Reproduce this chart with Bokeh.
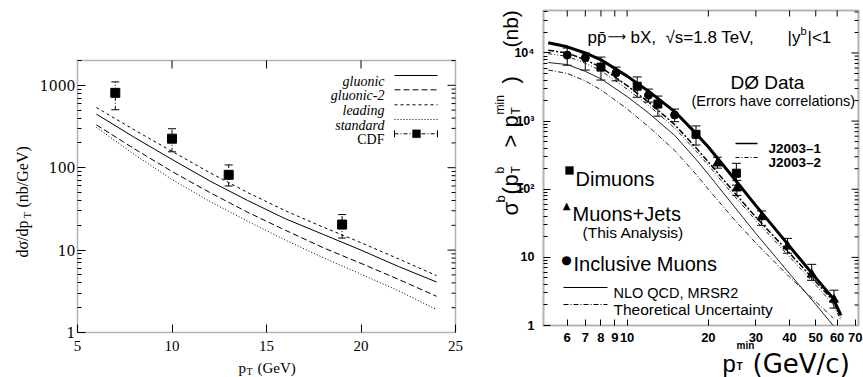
import math
from bokeh.plotting import figure
from bokeh.layouts import row
from bokeh.models import (Range1d, FixedTicker, Label, Arrow, Whisker, TeeHead,
                          ColumnDataSource, CustomJSTickFormatter, BoxAnnotation)
from bokeh.embed import file_html
from bokeh.resources import INLINE

# ---------------- left panel data ----------------
pt_left = [6, 8, 10, 12, 14, 16, 18, 20, 22, 24]
gluonic = [447, 234, 126, 69, 40, 24, 15.5, 10.0, 6.3, 4.1]
gluonic_2 = [331, 170, 90, 50, 28.8, 17.4, 10.7, 6.9, 4.4, 2.75]
leading = [537, 288, 158, 87, 50, 30, 19, 12.3, 7.8, 4.9]
standard = [309, 145, 72, 39, 22.4, 13.2, 8.1, 5.1, 3.2, 1.9]

cdf_pt = [7, 10, 13, 19]
cdf = [810, 225, 82, 20.4]
cdf_hi = [1100, 297, 108, 27]
cdf_lo = [505, 156, 60, 14]

left_xticks = [5, 10, 15, 20, 25]
left_yticks = [1, 10, 100, 1000]

# ---------------- right panel data ----------------
pt_right = [5.1, 6, 7, 8, 10, 12, 15, 18, 20, 25, 30, 40, 50, 58, 62]
j2003_1 = [14100, 12300, 10000, 7940, 4570, 2750, 1380, 660, 417, 141, 57.5, 14.5, 5.0, 2.5, 1.41]
j2003_2 = [10960, 10000, 7940, 6170, 3310, 1900, 890, 407, 251, 89, 38.9, 11.5, 4.4, 2.3, 1.32]
unc_up = [9770, 8910, 7080, 5500, 2950, 1700, 794, 363, 224, 79, 34.7, 10.2, 3.9, 2.04, 1.17]
nlo = [7240, 6760, 5370, 4170, 2290, 1320, 617, 275, 166, 55, 22.4, 5.75, 2.04, 1.0]
unc_lo = [5620, 5010, 3890, 2880, 1510, 832, 372, 166, 100, 35.5, 16.2, 5.13, 2.24, 1.29]

incl_pt = [6, 7, 9.1, 12, 15]
incl = [9300, 8500, 5100, 2400, 1230]
incl_hi = [11800, 10000, 6200, 2950, 1500]
incl_lo = [6600, 5600, 3900, 1900, 980]

dimu_pt = [8, 10.9, 13, 18, 25.4]
dimu = [6200, 3250, 1780, 640, 172]
dimu_hi = [8700, 4450, 2330, 850, 240]
dimu_lo = [4000, 2240, 1180, 445, 115]

mj_pt = [21.6, 25.5, 31.5, 39.3, 48.3, 58.4]
mj = [240, 103, 39, 14.5, 5.6, 2.4]
mj_hi = [295, 135, 48, 19, 7.9, 3.3]
mj_lo = [204, 81, 29.5, 11.5, 4.6, 1.8]

right_xticks = [6, 7, 8, 9, 10, 20, 30, 40, 50, 60, 70]
right_yticks = [1, 10, 100, 1000, 10000]

# axis extents of the two boxes
L_X = (5, 25)
L_Y = (1, 2000)
R_X = (4.9, 72)
R_Y = (1, 42000)

# box geometry (pixels): left offset, width, bottom offset, height, canvas size
L_BOX = dict(ox=77, w=378, oy=45, h=272, W=470, H=377)
R_BOX = dict(ox=73, w=315, oy=52, h=315, W=393, H=377)


def minor_log(lo_exp, hi_exp, top):
    out = []
    for e in range(lo_exp, hi_exp + 1):
        for m in range(2, 10):
            v = m * 10 ** e
            if v <= top:
                out.append(v)
    return out


class Mapper:
    def __init__(self, xr, yr, xlog, ylog, g):
        self.xr, self.yr, self.xlog, self.ylog, self.g = xr, yr, xlog, ylog, g

    def _t(self, v, r, log):
        if log:
            return (math.log10(v) - math.log10(r[0])) / (math.log10(r[1]) - math.log10(r[0]))
        return (v - r[0]) / (r[1] - r[0])

    def sx(self, v):
        return self.g["ox"] + self._t(v, self.xr, self.xlog) * self.g["w"]

    def sy(self, v):
        return self.g["oy"] + self._t(v, self.yr, self.ylog) * self.g["h"]

    def _inv(self, s, r, log, off, size):
        t = (s - off) / size
        if log:
            a, b = math.log10(r[0]), math.log10(r[1])
            return 10 ** (a + t * (b - a))
        return r[0] + t * (r[1] - r[0])

    def ranges(self):
        g = self.g
        xr = Range1d(self._inv(0, self.xr, self.xlog, g["ox"], g["w"]),
                     self._inv(g["W"], self.xr, self.xlog, g["ox"], g["w"]))
        yr = Range1d(self._inv(0, self.yr, self.ylog, g["oy"], g["h"]),
                     self._inv(g["H"], self.yr, self.ylog, g["oy"], g["h"]))
        return xr, yr


def make_tools(p):
    def lab(x, y, text, size, font="Liberation Sans", style="normal", align="left",
            angle=0.0, baseline="alphabetic"):
        p.add_layout(Label(x=x, y=y, x_units="screen", y_units="screen", text=text,
                           text_font=font, text_font_size=f"{size}px", text_font_style=style,
                           text_align=align, text_baseline=baseline, angle=angle,
                           text_color="black"))

    def seg(x0, y0, x1, y1, width=1.0, dash="solid"):
        p.add_layout(Arrow(end=None, x_start=x0, y_start=y0, x_end=x1, y_end=y1,
                           start_units="screen", end_units="screen",
                           line_width=width, line_dash=dash, line_color="black"))

    def box(l, r, b, t, fill=True, lw=1.0):
        p.add_layout(BoxAnnotation(left=l, right=r, bottom=b, top=t,
                                   left_units="screen", right_units="screen",
                                   bottom_units="screen", top_units="screen",
                                   fill_color="black" if fill else None, fill_alpha=1,
                                   line_color="black", line_width=lw))
    return lab, seg, box


plain_fmt = CustomJSTickFormatter(code="return String(Math.round(tick));")


def style_axis(ax, ticker, loc, tin, minin, font, size, standoff, bold=False, fmt=None):
    ax.ticker = ticker
    ax.fixed_location = loc
    ax.major_tick_in = tin
    ax.major_tick_out = 0
    ax.minor_tick_in = minin
    ax.minor_tick_out = 0
    ax.axis_line_color = None
    ax.major_tick_line_color = "black"
    ax.minor_tick_line_color = "black"
    ax.major_label_text_font = font
    ax.major_label_text_color = "black"
    ax.major_label_text_font_style = "bold" if bold else "normal"
    ax.formatter = fmt if fmt is not None else plain_fmt
    ax.major_label_text_font_size = f"{size}px"
    ax.major_label_standoff = standoff


def base_fig(g, xr, yr, xtype, ytype):
    p = figure(width=g["W"], height=g["H"], x_range=xr, y_range=yr,
               x_axis_type=xtype, y_axis_type=ytype,
               output_backend="svg", toolbar_location=None,
               min_border_left=0, min_border_right=0, min_border_top=0, min_border_bottom=0)
    p.grid.visible = False
    p.outline_line_color = None
    p.background_fill_color = "white"
    p.border_fill_color = "white"
    return p


# ======================= LEFT PANEL =======================
mL = Mapper(L_X, L_Y, False, True, L_BOX)
xr, yr = mL.ranges()
p1 = base_fig(L_BOX, xr, yr, "linear", "log")
lab, seg, box = make_tools(p1)

ly_minor = minor_log(0, 3, L_Y[1])
style_axis(p1.xaxis[0], FixedTicker(ticks=left_xticks, minor_ticks=[]), L_Y[0], 8, 0,
           "Liberation Serif", 15, 8)
style_axis(p1.yaxis[0], FixedTicker(ticks=left_yticks, minor_ticks=ly_minor), L_X[0], 8, 4,
           "DejaVu Serif", 14, 2)

# frame box and mirrored ticks (top / right)
bx0, bx1 = mL.sx(L_X[0]), mL.sx(L_X[1])
by0, by1 = mL.sy(L_Y[0]), mL.sy(L_Y[1])
box(bx0, bx1, by0, by1, fill=False, lw=1.5)
for v in left_xticks[1:-1]:
    seg(mL.sx(v), by1, mL.sx(v), by1 - 8)
for v in left_yticks[1:]:
    seg(bx1, mL.sy(v), bx1 - 8, mL.sy(v))
for v in ly_minor:
    seg(bx1, mL.sy(v), bx1 - 4, mL.sy(v))

p1.line(pt_left, leading, line_color="black", line_width=1, line_dash="3 3")
p1.line(pt_left, gluonic, line_color="black", line_width=1)
p1.line(pt_left, gluonic_2, line_color="black", line_width=1, line_dash="6 3")
p1.line(pt_left, standard, line_color="black", line_width=1, line_dash="1 2")

src_cdf = ColumnDataSource(dict(x=cdf_pt, y=cdf, hi=cdf_hi, lo=cdf_lo))
p1.add_layout(Whisker(source=src_cdf, base="x", upper="hi", lower="lo", line_color="black",
                      line_width=1, line_dash="4 2 1 2",
                      upper_head=TeeHead(size=8, line_color="black", line_width=1),
                      lower_head=TeeHead(size=8, line_color="black", line_width=1)))
p1.scatter("x", "y", source=src_cdf, marker="square", size=9, color="black")

# axis labels (left)  -- canvas px, y up
lab(238, 10, "p", 15, font="Liberation Serif")
lab(246, 6, "T", 10, font="Liberation Serif")
lab(257, 10, "(GeV)", 15, font="Liberation Serif")
lab(22, 120, "dσ/dp", 16, font="Liberation Serif", angle=math.pi / 2)
lab(26, 159, "T", 11, font="Liberation Serif", angle=math.pi / 2)
lab(22, 170, "(nb/GeV)", 16, font="Liberation Serif", angle=math.pi / 2)

# legend (left)
leg_names = ["gluonic", "gluonic-2", "leading", "standard"]
leg_dash = ["solid", "6 3", "3 3", "1 2"]
row_y = [302, 287.7, 272.7, 258, 243.7]
for name, dash, yy in zip(leg_names, leg_dash, row_y):
    lab(384, yy - 5.5, name, 14, font="Liberation Serif", style="italic", align="right")
    seg(394, yy, 437, yy, 1, dash)
lab(384, row_y[4] - 5.5, "CDF", 14, font="Liberation Serif", align="right")
seg(394, row_y[4], 437, row_y[4], 1, "4 2 1 2")
seg(394, row_y[4] - 3.5, 394, row_y[4] + 3.5, 1)
seg(437, row_y[4] - 3.5, 437, row_y[4] + 3.5, 1)
box(412, 420, row_y[4] - 4, row_y[4] + 4)

# ======================= RIGHT PANEL =======================
mR = Mapper(R_X, R_Y, True, True, R_BOX)
xr, yr = mR.ranges()
p2 = base_fig(R_BOX, xr, yr, "log", "log")
lab, seg, box = make_tools(p2)

ry_minor = minor_log(0, 4, R_Y[1])
sup_fmt = CustomJSTickFormatter(code="""
const e = Math.round(Math.log10(tick));
if (e < 2) { return String(Math.round(tick)); }
const s = {2: '\u00b2', 3: '\u00b3', 4: '\u2074'};
return '10' + s[e];
""")
style_axis(p2.xaxis[0], FixedTicker(ticks=right_xticks, minor_ticks=[]), R_Y[0], 6, 0,
           "Liberation Sans", 13, 7, bold=True)
style_axis(p2.yaxis[0], FixedTicker(ticks=right_yticks, minor_ticks=ry_minor), R_X[0], 7, 4,
           "Liberation Sans", 12.5, 9, bold=True, fmt=sup_fmt)

cx0, cx1 = mR.sx(R_X[0]), mR.sx(R_X[1])
cy0, cy1 = mR.sy(R_Y[0]), mR.sy(R_Y[1])
box(cx0, cx1, cy0, cy1, fill=False, lw=2)
for v in right_xticks[:-1]:
    seg(mR.sx(v), cy1, mR.sx(v), cy1 - 6)
for v in right_yticks[1:]:
    seg(cx1, mR.sy(v), cx1 - 7, mR.sy(v))
for v in ry_minor:
    seg(cx1, mR.sy(v), cx1 - 4, mR.sy(v))

p2.line(pt_right[:len(unc_lo)], unc_lo, line_color="#222222", line_width=1, line_dash="5 2 1 2")
p2.line(pt_right[:len(nlo)], nlo, line_color="#222222", line_width=1)
p2.line(pt_right, unc_up, line_color="#222222", line_width=1, line_dash="4 2 1 2 1 2")
p2.line(pt_right, j2003_2, line_color="black", line_width=1.5, line_dash="6 2 2 2")
p2.line(pt_right, j2003_1, line_color="black", line_width=3)

for xs, ys, his, los, mk, sz in [(incl_pt, incl, incl_hi, incl_lo, "circle", 8),
                                  (dimu_pt, dimu, dimu_hi, dimu_lo, "square", 8),
                                  (mj_pt, mj, mj_hi, mj_lo, "triangle", 9)]:
    src = ColumnDataSource(dict(x=xs, y=ys, hi=his, lo=los))
    p2.add_layout(Whisker(source=src, base="x", upper="hi", lower="lo", line_color="black",
                          line_width=1,
                          upper_head=TeeHead(size=9, line_color="black", line_width=1),
                          lower_head=TeeHead(size=9, line_color="black", line_width=1)))
    p2.scatter("x", "y", source=src, marker=mk, size=sz, color="black")

# panel texts (canvas px of the right figure, y up)
lab(117, 340, "pp̄", 17)
lab(137, 341, "⟶", 13, font="DejaVu Sans")
lab(160, 340, "bX,", 17)
lab(195, 340, "√s=1.8 TeV,", 17)
lab(317, 340, "|y", 17)
lab(330, 347, "b", 11)
lab(337, 340, "|<1", 17)

lab(260, 295, "DØ Data", 19)
lab(221, 277, "(Errors have correlations)", 14.5)

lab(298, 229, "J2003–1", 13.5, style="bold")
lab(298, 215, "J2003–2", 13.5, style="bold")
seg(265, 234, 287, 234, 1.5)
seg(265, 220, 287, 220, 1, "4 2 1 2")

box(95, 103, 203, 211)
lab(105, 199, "Dimuons", 20)
lab(96, 172, "▲", 10, font="DejaVu Sans", align="center", baseline="middle")
lab(102, 164, "Muons+Jets", 20)
lab(112, 145, "(This Analysis)", 15.5)
lab(96, 118, "●", 12, font="DejaVu Sans", align="center", baseline="middle")
lab(103, 114, "Inclusive Muons", 20)
seg(93, 90, 137, 90, 1)
lab(143, 85, "NLO QCD, MRSR2", 14.5)
seg(93, 73, 137, 73, 1, "5 2 1 2")
lab(143, 68, "Theoretical Uncertainty", 15.5)

# x axis label (right)
lab(252, 14, "p", 24)
lab(266, 11, "T", 10, style="bold")
lab(266, 32, "min", 10, style="bold")
lab(282, 14, "(GeV/c)", 26, font="DejaVu Sans")

# y axis label (right), rotated
A = math.pi / 2
bx = 40
lab(bx, 162, "σ", 22, angle=A)
lab(bx - 10, 175, "b", 13, angle=A)
lab(bx, 183, "(", 22, angle=A)
lab(bx, 191, "p", 22, angle=A)
lab(bx + 5, 204, "T", 12, angle=A)
lab(bx - 11, 204, "b", 12, angle=A)
lab(bx, 230, ">", 22, angle=A)
lab(bx, 250, "p", 22, angle=A)
lab(bx + 5, 263, "T", 12, angle=A)
lab(bx - 11, 263, "min", 12, angle=A)
lab(bx, 294, ")", 22, angle=A)
lab(bx, 330, "(nb)", 21, angle=A)

layout = row(p1, p2)
open("out.html", "w").write(file_html(layout, INLINE))
